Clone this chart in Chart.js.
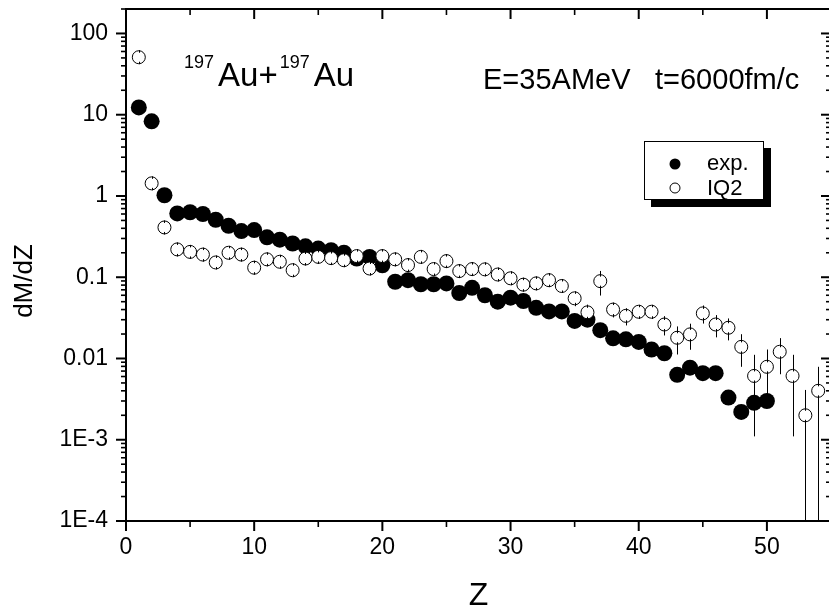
<!DOCTYPE html>
<html><head><meta charset="utf-8">
<script src="https://cdn.jsdelivr.net/npm/chart.js@4.4.1/dist/chart.umd.min.js"></script>
<style>html,body{margin:0;padding:0;background:#fff;overflow:hidden;width:829px;height:610px}canvas{display:block}</style>
</head><body>
<canvas id="c" width="831" height="610" style="width:831px;height:610px"></canvas>
<script>
// ---- data ----
const zExp = [1,2,3,4,5,6,7,8,9,10,11,12,13,14,15,16,17,18,19,20,21,22,23,24,25,26,27,28,29,30,31,32,33,34,35,36,37,38,39,40,41,42,43,44,45,46,47,48,49,50];
const dmdzExp = [12.3,8.3,1.02,0.61,0.63,0.60,0.51,0.43,0.37,0.38,0.31,0.29,0.26,0.24,0.225,0.215,0.20,0.17,0.178,0.14,
  0.088,0.092,0.082,0.082,0.084,0.064,0.074,0.060,0.050,0.056,0.051,0.042,0.038,0.038,0.029,0.030,0.0223,0.0177,0.0172,0.016,
  0.0129,0.0116,0.0063,0.0077,0.0066,0.0066,0.0033,0.0022,0.00285,0.0030];
const zIQ2 = [1,2,3,4,5,6,7,8,9,10,11,12,13,14,15,16,17,18,19,20,21,22,23,24,25,26,27,28,29,30,31,32,33,34,35,36,37,38,39,40,41,42,43,44,45,46,47,48,49,50,51,52,53,54];
const dmdzIQ2 = [51,1.43,0.41,0.22,0.205,0.19,0.152,0.20,0.19,0.131,0.166,0.155,0.122,0.17,0.178,0.172,0.162,0.182,0.128,0.182,
  0.166,0.141,0.178,0.126,0.158,0.119,0.126,0.125,0.108,0.097,0.081,0.084,0.092,0.078,0.055,0.037,0.0895,0.040,0.0335,0.0376,
  0.0376,0.0262,0.018,0.0198,0.0359,0.0262,0.0239,0.0139,0.0061,0.0079,0.0121,0.0061,0.0020,0.0040];
const errIQ2 = [1.5,0.08,0.03,0.015,0.015,0.015,0.012,0.015,0.015,0.012,0.014,0.013,0.012,0.015,0.015,0.015,0.015,0.016,0.013,0.017,
  0.016,0.015,0.018,0.014,0.017,0.014,0.015,0.015,0.014,0.013,0.012,0.013,0.014,0.013,0.011,0.009,0.030,0.008,0.008,0.007,
  0.007,0.007,0.0068,0.007,0.009,0.008,0.0072,0.006,0.005,0.005,0.0057,0.005,0.0021,0.0039];
const xTicks = [0,10,20,30,40,50];
const yTicks = [1e-4,1e-3,0.01,0.1,1,10,100];
const yTickLabels = ['1E-4','1E-3','0.01','0.1','1','10','100'];
const seriesLabels = ['exp.','IQ2'];

const FONT = "'Liberation Sans', Arial, Helvetica, sans-serif";
Chart.defaults.font.family = FONT;
Chart.defaults.color = '#000';

function line(ctx,x1,y1,x2,y2){ctx.beginPath();ctx.moveTo(x1,y1);ctx.lineTo(x2,y2);ctx.stroke();}

const decor = {
  id:'decor',
  beforeDatasetsDraw(chart){
    const {ctx, chartArea:a, scales:{x,y}} = chart;
    ctx.save();
    ctx.strokeStyle='#000'; ctx.lineWidth=1;
    zIQ2.forEach((z,i)=>{
      const px = Math.round(x.getPixelForValue(z))+0.5;
      const hi = Math.max(y.getPixelForValue(dmdzIQ2[i]+errIQ2[i]), a.top);
      const lv = dmdzIQ2[i]-errIQ2[i];
      const lo = lv>0 ? Math.min(y.getPixelForValue(lv), a.bottom) : a.bottom;
      line(ctx,px,hi,px,lo);
    });
    ctx.restore();
  },
  afterDatasetsDraw(chart){
    const {ctx, scales:{x,y}} = chart;
    ctx.save(); ctx.strokeStyle='#000'; ctx.lineWidth=1;
    zIQ2.forEach((z,i)=>{
      const px = Math.round(x.getPixelForValue(z))+0.5;
      const py = y.getPixelForValue(dmdzIQ2[i]);
      line(ctx,px,py-7,px,py-4.5); line(ctx,px,py+4.5,px,py+7);
    });
    ctx.restore();
  },
  afterDraw(chart){
    const {ctx, chartArea:a, scales:{x,y}} = chart;
    ctx.save();
    ctx.strokeStyle='#000'; ctx.fillStyle='#000';
    // frame
    ctx.lineWidth=2;
    line(ctx,a.left,a.top-1,a.left,a.bottom+1);
    line(ctx,a.left-1,a.bottom,a.right,a.bottom);
    line(ctx,a.left-1,a.top,a.right,a.top);
    line(ctx,a.right,a.top,a.right,a.bottom);
    // x ticks (bottom outward, top inward)
    xTicks.forEach((v,i)=>{
      const px = x.getPixelForValue(v);
      ctx.lineWidth=2;
      line(ctx,px,a.bottom,px,a.bottom+10);
      line(ctx,px,a.top,px,a.top+10);
      const m = v + (i<xTicks.length-1 ? (xTicks[i+1]-v)/2 : (v-xTicks[i-1])/2);
      const pm = x.getPixelForValue(m);
      ctx.lineWidth=1.6;
      line(ctx,pm,a.bottom,pm,a.bottom+6);
      line(ctx,pm,a.top,pm,a.top+6);
    });
    // y ticks (left outward, right inward)
    for(let e=-4;e<=2;e++){
      for(let k=1;k<=9;k++){
        const v = k*Math.pow(10,e);
        if(v>y.max) continue;
        const py = y.getPixelForValue(v);
        if(k===1){ ctx.lineWidth=2; line(ctx,a.left-10,py,a.left,py); line(ctx,a.right-10,py,a.right,py); }
        else { ctx.lineWidth=1.6; line(ctx,a.left-5,py,a.left,py); line(ctx,a.right-5,py,a.right,py); }
      }
    }
    // y axis title
    ctx.save();
    ctx.translate(25,281); ctx.rotate(-Math.PI/2);
    ctx.font = '26px '+FONT; ctx.textAlign='center'; ctx.textBaseline='middle';
    ctx.fillText('dM/dZ',0,0);
    ctx.restore();
    // reaction annotation
    ctx.textBaseline='alphabetic'; ctx.textAlign='left';
    let tx = 184;
    ctx.font='18px '+FONT; ctx.fillText('197',tx,68); tx += ctx.measureText('197').width+4;
    ctx.font='33px '+FONT; ctx.fillText('Au+',tx,86); tx += ctx.measureText('Au+').width+2;
    ctx.font='18px '+FONT; ctx.fillText('197',tx,68); tx += ctx.measureText('197').width+4;
    ctx.font='33px '+FONT; ctx.fillText('Au',tx,86);
    ctx.font='29px '+FONT;
    ctx.fillText('E=35AMeV',483,89);
    ctx.fillText('t=6000fm/c',655,89);
    // legend
    ctx.fillStyle='#000'; ctx.fillRect(651,148,120,59);
    ctx.fillStyle='#fff'; ctx.fillRect(644,141,120,59);
    ctx.lineWidth=1; ctx.strokeStyle='#000'; ctx.strokeRect(644.5,141.5,119,58);
    ctx.fillStyle='#000';
    ctx.beginPath(); ctx.arc(675,164,5.5,0,Math.PI*2); ctx.fill();
    ctx.beginPath(); ctx.arc(675,188,5,0,Math.PI*2); ctx.fillStyle='#fff'; ctx.fill(); ctx.stroke();
    ctx.fillStyle='#000'; ctx.font='22px '+FONT; ctx.textBaseline='alphabetic';
    ctx.fillText(seriesLabels[0],707,170);
    ctx.fillText(seriesLabels[1],707,195);
    ctx.restore();
  }
};

new Chart(document.getElementById('c'), {
  type:'scatter',
  data:{datasets:[
    {label:seriesLabels[0], data:zExp.map((z,i)=>({x:z,y:dmdzExp[i]})), pointRadius:8, pointHoverRadius:8,
     pointBackgroundColor:'#000', pointBorderColor:'#000', pointBorderWidth:0, order:2, showLine:false},
    {label:seriesLabels[1], data:zIQ2.map((z,i)=>({x:z,y:dmdzIQ2[i]})), pointRadius:6.5, pointHoverRadius:6.5,
     pointBackgroundColor:'#fff', pointBorderColor:'#000', pointBorderWidth:1, order:1, showLine:false}
  ]},
  options:{
    responsive:false, animation:false, devicePixelRatio:1, events:[],
    layout:{autoPadding:false, padding:{left:0,right:0,top:9,bottom:0}},
    plugins:{legend:{display:false}, tooltip:{enabled:false}},
    scales:{
      x:{type:'linear', position:'bottom', min:0, max:55,
        afterBuildTicks(s){ s.ticks = xTicks.map(v=>({value:v})); },
        afterFit(s){ s.height = 89; s.paddingLeft=0; s.paddingRight=0; },
        grid:{display:false, drawTicks:false}, border:{display:false},
        ticks:{padding:13, font:{size:23}, maxRotation:0, autoSkip:false, callback:(v)=>String(v)},
        title:{display:true, text:'Z', font:{size:32, lineHeight:1}, padding:{top:0,bottom:-2}}
      },
      y:{type:'logarithmic', position:'left', min:1e-4, max:200,
        afterBuildTicks(s){ s.ticks = yTicks.map(v=>({value:v})); },
        afterFit(s){ s.width = 126; s.paddingTop=0; s.paddingBottom=0; },
        grid:{display:false, drawTicks:false}, border:{display:false},
        ticks:{padding:18, font:{size:23}, autoSkip:false, callback:(v,i)=>yTickLabels[i]}
      }
    }
  },
  plugins:[decor]
});
</script>
</body></html>
